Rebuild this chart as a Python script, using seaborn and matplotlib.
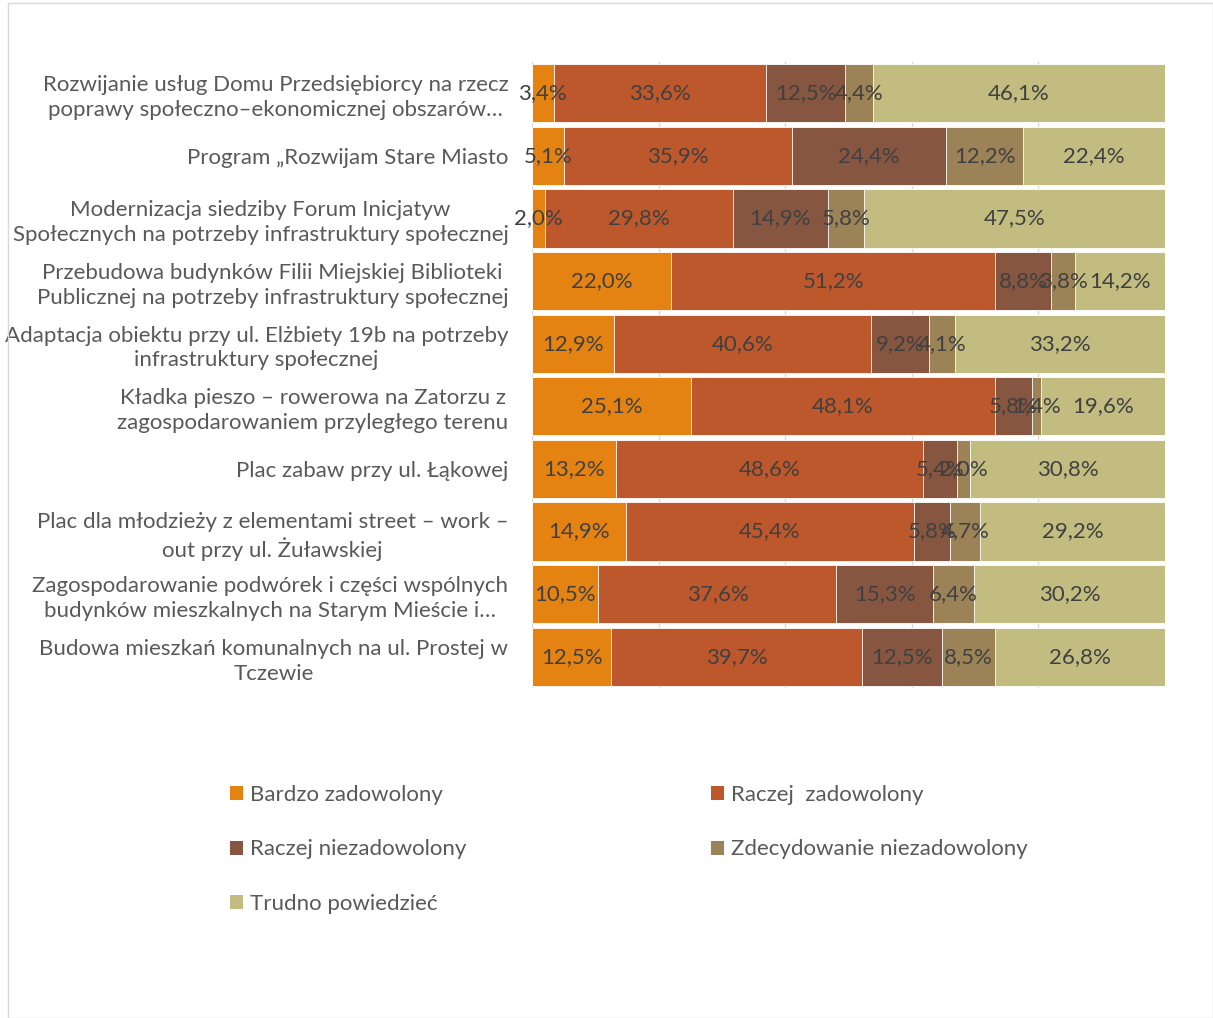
import matplotlib
matplotlib.use("Agg")
import matplotlib.pyplot as plt
from matplotlib.patches import Patch, Rectangle
import seaborn as sns
import pandas as pd
import numpy as np

categories = [
    "Rozwijanie usług Domu Przedsiębiorcy na rzecz\npoprawy społeczno–ekonomicznej obszarów…",
    "Program „Rozwijam Stare Miasto",
    "Modernizacja siedziby Forum Inicjatyw\nSpołecznych na potrzeby infrastruktury społecznej",
    "Przebudowa budynków Filii Miejskiej Biblioteki\nPublicznej na potrzeby infrastruktury społecznej",
    "Adaptacja obiektu przy ul. Elżbiety 19b na potrzeby\ninfrastruktury społecznej",
    "Kładka pieszo – rowerowa na Zatorzu z\nzagospodarowaniem przyległego terenu",
    "Plac zabaw przy ul. Łąkowej",
    "Plac dla młodzieży z elementami street – work –\nout przy ul. Żuławskiej",
    "Zagospodarowanie podwórek i części wspólnych\nbudynków mieszkalnych na Starym Mieście i…",
    "Budowa mieszkań komunalnych na ul. Prostej w\nTczewie",
]

series_names = [
    "Bardzo zadowolony",
    "Raczej  zadowolony",
    "Raczej niezadowolony",
    "Zdecydowanie niezadowolony",
    "Trudno powiedzieć",
]

bardzo_zadowolony = [3.4, 5.1, 2.0, 22.0, 12.9, 25.1, 13.2, 14.9, 10.5, 12.5]
raczej_zadowolony = [33.6, 35.9, 29.8, 51.2, 40.6, 48.1, 48.6, 45.4, 37.6, 39.7]
raczej_niezadowolony = [12.5, 24.4, 14.9, 8.8, 9.2, 5.8, 5.4, 5.8, 15.3, 12.5]
zdecydowanie_niezadowolony = [4.4, 12.2, 5.8, 3.8, 4.1, 1.4, 2.0, 4.7, 6.4, 8.5]
trudno_powiedziec = [46.1, 22.4, 47.5, 14.2, 33.2, 19.6, 30.8, 29.2, 30.2, 26.8]

colors = ["#E48312", "#BD582C", "#865640", "#9B8357", "#C2BC80"]

series = [bardzo_zadowolony, raczej_zadowolony, raczej_niezadowolony,
          zdecydowanie_niezadowolony, trudno_powiedziec]

sns.set_theme(style="white")
plt.rcParams["font.family"] = ["Lato", "DejaVu Sans"]

FS = 16

W, H = 1213, 1018
fig = plt.figure(figsize=(W / 100, H / 100), dpi=100)
ax = fig.add_axes([532 / W, 1 - 688 / H, (1165 - 532) / W, (688 - 62) / H])

values = np.array(series)           # shape (5, 10)
cum = np.cumsum(values, axis=0)     # right edge of each segment

df = pd.DataFrame({"kategoria": categories})
for name, c in zip(series_names, cum):
    df[name] = c

# Stacked bars: draw cumulative totals from the widest down
for k in range(len(series_names) - 1, -1, -1):
    sns.barplot(data=df, x=series_names[k], y="kategoria", orient="h",
                color=colors[k], saturation=1, width=0.93,
                edgecolor="white", linewidth=0.6, ax=ax, zorder=3)

# Segment value labels
for k in range(len(series_names)):
    for i in range(len(categories)):
        v = values[k, i]
        left = cum[k, i] - v
        ax.text(left + v / 2, i, f"{v:.1f}".replace(".", ",") + "%",
                ha="center", va="center", fontsize=FS, color="#404040",
                zorder=5)

ax.set_xlim(0, 100)
ax.set_ylim(9.5, -0.5)
ax.set_xticks([0, 20, 40, 60, 80, 100])
ax.set_xticklabels([])
ax.xaxis.grid(True, color="#D9D9D9", linewidth=1)
ax.set_axisbelow(True)
ax.set_xlabel("")
ax.set_ylabel("")
for s in ax.spines.values():
    s.set_visible(False)
ax.tick_params(axis="y", length=0, pad=17, labelsize=FS, labelcolor="#595959")
ax.tick_params(axis="x", length=0)
for lab in ax.get_yticklabels():
    lab.set_multialignment("center")
    lab.set_linespacing(1.3)

# Legend below the chart, two columns
order = [0, 2, 4, 1, 3]
handles = [Patch(facecolor=colors[k], edgecolor="none") for k in order]
labels = [series_names[k] for k in order]
leg = fig.legend(handles, labels, ncol=2, loc="upper left",
                 bbox_to_anchor=(210 / W, 1 - 765 / H), frameon=False,
                 fontsize=FS, labelcolor="#595959", handlelength=0.6,
                 handleheight=0.6, handletextpad=0.3, labelspacing=1.55,
                 columnspacing=11.0)

# Chart area border
fig.patches.append(Rectangle((8 / W, 0), 1 - 8 / W, 1 - 3 / H,
                             transform=fig.transFigure, fill=False,
                             edgecolor="#D9D9D9", linewidth=1))

fig.savefig("out.png", dpi=100, facecolor="white")
